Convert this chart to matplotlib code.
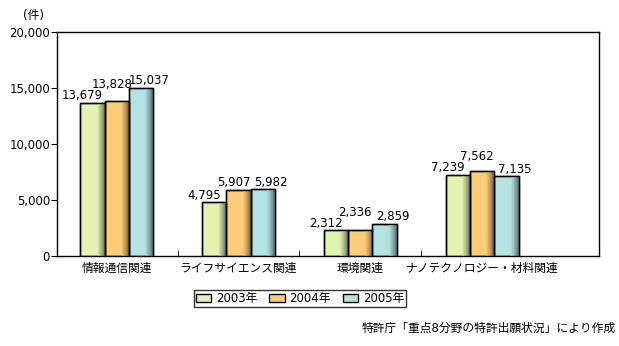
import matplotlib.pyplot as plt
import matplotlib.colors as mcolors
import numpy as np

plt.rcParams['font.family'] = ['DejaVu Sans', 'Noto Sans CJK JP']

categories = ['情報通信関連', 'ライフサイエンス関連', '環境関連', 'ナノテクノロジー・材料関連']
years = ['2003年', '2004年', '2005年']
values_2003 = [13679, 4795, 2312, 7239]
values_2004 = [13828, 5907, 2336, 7562]
values_2005 = [15037, 5982, 2859, 7135]
colors = ['#E2F2B0', '#FFCC77', '#B4E2E2']

FS = 8.5
PX = 0.72  # points per pixel at dpi 100

fig = plt.figure(figsize=(6.19, 3.46), dpi=100)
ax = fig.add_axes([57 / 619, 1 - 256 / 346, 542 / 619, 224 / 346])

ymax = 20000
px_per_unit = 224 / ymax

x = np.arange(len(categories))
w = 0.2
series = [values_2003, values_2004, values_2005]
for i, vals in enumerate(series):
    pos = x + (i - 1) * w
    bars = ax.bar(pos, vals, w, color=colors[i], edgecolor='black', linewidth=1.0,
                  label=years[i], zorder=3)
    # darker shading on the right side of each bar
    base = np.array(mcolors.to_rgb(colors[i]))
    dark = base * 0.5
    for b in bars:
        n = 8
        sw = b.get_width() * 0.32 / n
        x0 = b.get_x() + b.get_width() * 0.68
        for k in range(n):
            t = ((k + 1) / n) ** 1.3
            c = base * (1 - t) + dark * t
            ax.bar(x0 + k * sw, b.get_height(), sw, align='edge', color=c,
                   linewidth=0, zorder=3.5)
        ax.bar(b.get_x() + b.get_width() / 2, b.get_height(), b.get_width(),
               fill=False, edgecolor='black', linewidth=1.0, zorder=4)

# data labels: first left, last right, middle raised if it would hit the first
for g in range(len(categories)):
    v1, v2, v3 = values_2003[g], values_2004[g], values_2005[g]
    dy1 = 7
    dy3 = 7
    dy2 = 7
    if abs((v2 - v1) * px_per_unit) < 11:
        dy2 = (v1 - v2) * px_per_unit + 7 + 11
    for i, (v, dx, dy) in enumerate([(v1, -10, dy1), (v2, -5, dy2), (v3, 8, dy3)]):
        ax.annotate(f'{v:,}', (x[g] + (i - 1) * w, v), xytext=(dx * PX, dy * PX),
                    textcoords='offset points', ha='center', va='center',
                    fontsize=FS, zorder=5)

ax.set_xlim(-0.49, 3.96)
ax.set_ylim(0, ymax)
ax.set_yticks(range(0, ymax + 1, 5000))
ax.set_yticklabels([f'{v:,}' for v in range(0, ymax + 1, 5000)], fontsize=FS)
ax.set_xticks(x)
ax.set_xticklabels(categories, fontsize=FS)
ax.tick_params(axis='x', length=0, pad=4)
ax.set_xticks(np.arange(0.5, 3.5, 1), minor=True)
ax.tick_params(axis='x', which='minor', length=4, direction='in')
ax.tick_params(axis='y', length=4, direction='out', pad=1)
for s in ax.spines.values():
    s.set_linewidth(1.0)

fig.text(34 / 619, 1 - 16 / 346, '(件)', fontsize=FS, ha='center', va='center')

ax.legend(loc='center', bbox_to_anchor=(300 / 619, 1 - 298.5 / 346), bbox_transform=fig.transFigure,
          ncol=3, fontsize=FS, frameon=True, fancybox=False, edgecolor='black',
          handlelength=1.3, handleheight=0.75, handletextpad=0.4, columnspacing=1.0,
          borderpad=0.15, borderaxespad=0)

fig.text(616 / 619, 1 - 328 / 346, '特許庁「重点8分野の特許出願状況」により作成',
         fontsize=FS, ha='right', va='center')

fig.savefig('out.png', dpi=100)
